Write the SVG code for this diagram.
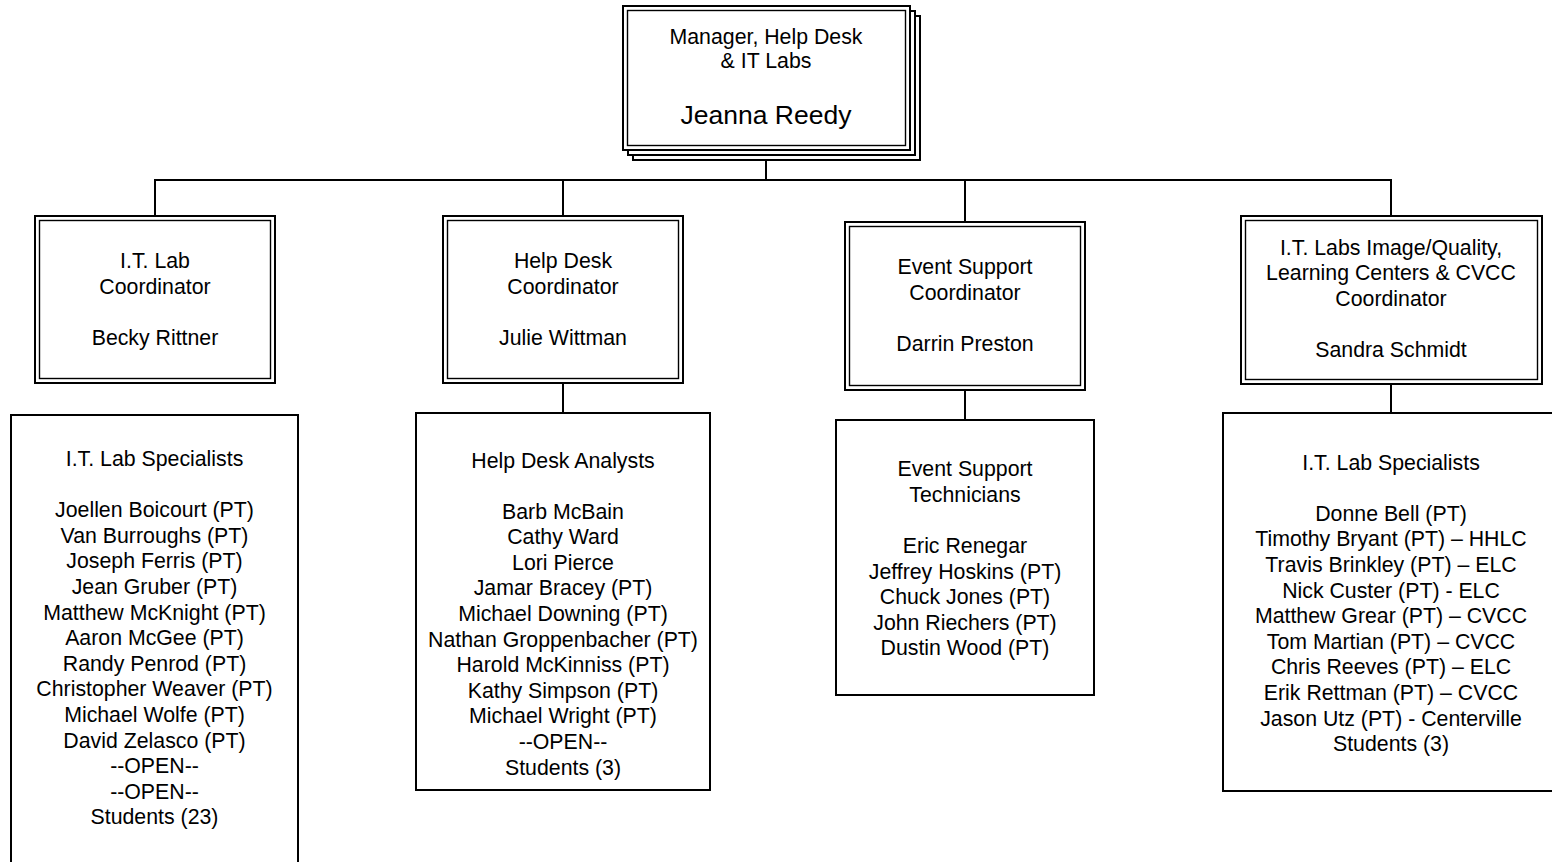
<svg xmlns="http://www.w3.org/2000/svg" width="1552" height="862" viewBox="0 0 1552 862">
<style>
  text { font-family: "Liberation Sans", Arial, sans-serif; font-size: 21.3px; fill: #000; text-anchor: middle; }
  .big { font-size: 26.5px; }
  .outer { fill: #fff; stroke: #000; stroke-width: 2; }
  .inner { fill: none; stroke: #000; stroke-width: 1.4; }
  .list { fill: #fff; stroke: #000; stroke-width: 2; }
  .conn { fill: none; stroke: #000; stroke-width: 2; }
</style>
<rect x="0" y="0" width="1552" height="862" fill="#fff"/>

<g id="connectors">
  <line class="conn" x1="766" y1="150" x2="766" y2="180"/>
  <line class="conn" x1="154" y1="180" x2="1392" y2="180"/>
  <line class="conn" x1="155" y1="180" x2="155" y2="216"/>
  <line class="conn" x1="563" y1="180" x2="563" y2="216"/>
  <line class="conn" x1="965" y1="180" x2="965" y2="222"/>
  <line class="conn" x1="1391" y1="180" x2="1391" y2="216"/>
  <line class="conn" x1="563" y1="383" x2="563" y2="413"/>
  <line class="conn" x1="965" y1="390" x2="965" y2="420"/>
  <line class="conn" x1="1391" y1="384" x2="1391" y2="413"/>
</g>

<g id="manager">
  <rect class="outer" x="633" y="16" width="287" height="144"/>
  <rect class="outer" x="628" y="11" width="287" height="144"/>
  <rect class="outer" x="623" y="6" width="287" height="144"/>
  <rect class="inner" x="627.5" y="10.5" width="278" height="135"/>
  <text x="766" y="44">Manager, Help Desk</text>
  <text x="766" y="68">&amp; IT Labs</text>
  <text class="big" x="766" y="124">Jeanna Reedy</text>
</g>

<g id="it-lab-coordinator">
  <rect class="outer" x="35" y="216" width="240" height="167"/>
  <rect class="inner" x="39.5" y="220.5" width="231" height="158"/>
  <text x="155" y="268.3">I.T. Lab</text>
  <text x="155" y="294">Coordinator</text>
  <text x="155" y="345">Becky Rittner</text>
</g>

<g id="help-desk-coordinator">
  <rect class="outer" x="443" y="216" width="240" height="167"/>
  <rect class="inner" x="447.5" y="220.5" width="231" height="158"/>
  <text x="563" y="268.3">Help Desk</text>
  <text x="563" y="294">Coordinator</text>
  <text x="563" y="345">Julie Wittman</text>
</g>

<g id="event-support-coordinator">
  <rect class="outer" x="845" y="222" width="240" height="168"/>
  <rect class="inner" x="849.5" y="226.5" width="231" height="159"/>
  <text x="965" y="274.3">Event Support</text>
  <text x="965" y="300">Coordinator</text>
  <text x="965" y="351">Darrin Preston</text>
</g>

<g id="labs-image-coordinator">
  <rect class="outer" x="1241" y="216" width="301" height="168"/>
  <rect class="inner" x="1245.5" y="220.5" width="292" height="159"/>
  <text x="1391" y="254.5">I.T. Labs Image/Quality,</text>
  <text x="1391" y="280">Learning Centers &amp; CVCC</text>
  <text x="1391" y="306">Coordinator</text>
  <text x="1391" y="357">Sandra Schmidt</text>
</g>

<g id="it-lab-specialists">
  <rect class="list" x="11" y="415" width="287" height="470"/>
  <text x="154.5" y="466">I.T. Lab Specialists</text>
  <text x="154.5" y="517.2">Joellen Boicourt (PT)</text>
  <text x="154.5" y="542.8">Van Burroughs (PT)</text>
  <text x="154.5" y="568.4">Joseph Ferris (PT)</text>
  <text x="154.5" y="594">Jean Gruber (PT)</text>
  <text x="154.5" y="619.6">Matthew McKnight (PT)</text>
  <text x="154.5" y="645.2">Aaron McGee (PT)</text>
  <text x="154.5" y="670.8">Randy Penrod (PT)</text>
  <text x="154.5" y="696.4">Christopher Weaver (PT)</text>
  <text x="154.5" y="722">Michael Wolfe (PT)</text>
  <text x="154.5" y="747.6">David Zelasco (PT)</text>
  <text x="154.5" y="773.2">--OPEN--</text>
  <text x="154.5" y="798.8">--OPEN--</text>
  <text x="154.5" y="824.4">Students (23)</text>
</g>

<g id="help-desk-analysts">
  <rect class="list" x="416" y="413" width="294" height="377"/>
  <text x="563" y="467.5">Help Desk Analysts</text>
  <text x="563" y="518.5">Barb McBain</text>
  <text x="563" y="544.1">Cathy Ward</text>
  <text x="563" y="569.7">Lori Pierce</text>
  <text x="563" y="595.3">Jamar Bracey (PT)</text>
  <text x="563" y="620.9">Michael Downing (PT)</text>
  <text x="563" y="646.5">Nathan Groppenbacher (PT)</text>
  <text x="563" y="672.1">Harold McKinniss (PT)</text>
  <text x="563" y="697.7">Kathy Simpson (PT)</text>
  <text x="563" y="723.3">Michael Wright (PT)</text>
  <text x="563" y="748.9">--OPEN--</text>
  <text x="563" y="774.5">Students (3)</text>
</g>

<g id="event-support-technicians">
  <rect class="list" x="836" y="420" width="258" height="275"/>
  <text x="965" y="476">Event Support</text>
  <text x="965" y="501.6">Technicians</text>
  <text x="965" y="553">Eric Renegar</text>
  <text x="965" y="578.6">Jeffrey Hoskins (PT)</text>
  <text x="965" y="604.2">Chuck Jones (PT)</text>
  <text x="965" y="629.8">John Riechers (PT)</text>
  <text x="965" y="655.4">Dustin Wood (PT)</text>
</g>

<g id="it-lab-specialists-2">
  <rect class="list" x="1223" y="413" width="340" height="378"/>
  <text x="1391" y="469.5">I.T. Lab Specialists</text>
  <text x="1391" y="520.8">Donne Bell (PT)</text>
  <text x="1391" y="546.4">Timothy Bryant (PT) – HHLC</text>
  <text x="1391" y="572">Travis Brinkley (PT) – ELC</text>
  <text x="1391" y="597.6">Nick Custer (PT) - ELC</text>
  <text x="1391" y="623.2">Matthew Grear (PT) – CVCC</text>
  <text x="1391" y="648.8">Tom Martian (PT) – CVCC</text>
  <text x="1391" y="674.4">Chris Reeves (PT) – ELC</text>
  <text x="1391" y="700">Erik Rettman (PT) – CVCC</text>
  <text x="1391" y="725.6">Jason Utz (PT) - Centerville</text>
  <text x="1391" y="751.2">Students (3)</text>
</g>
</svg>
